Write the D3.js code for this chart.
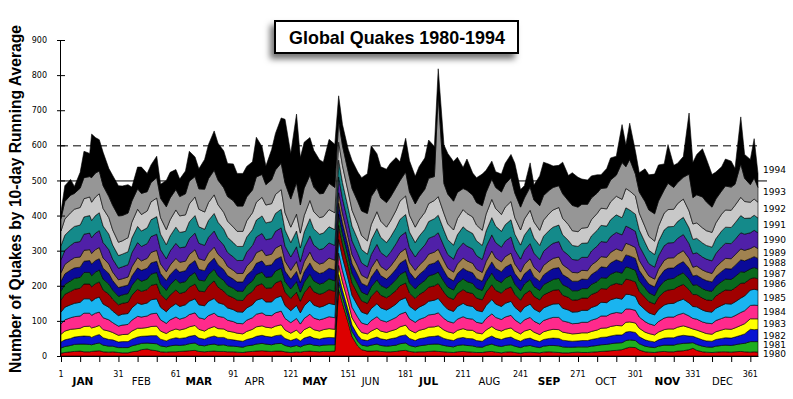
<!DOCTYPE html>
<html>
<head>
<meta charset="utf-8">
<script src="https://cdn.jsdelivr.net/npm/d3@7"></script>
<style>
  body { margin: 0; background: #fff; }
  svg { display: block; }
</style>
</head>
<body>
<div id="chart"></div>
<script>
'use strict';

// day of year for each sample (10-day running average)
const days = [1,3,6,8,11,13,16,17,
  19,21,23,26,28,31,33,36,38,41, 43,46,48,51,53,56,58,61,63,66, 68,71,73,76,78,81,83,86,88,91, 93,96,98,101,103,106,108,111,113,116, 118,121,
  124,126,128,131,133,136,138,141,144,146, 148,151,153,156,158,161,163,166,168,171, 173,176,178,181,183,186,188,191,193,196, 198,
  201,203,206,208,211,213,216,218,221,223, 226,228,231,233,236,238,241,243,246,248, 251,253,256,258,261,263,266,268,271,273, 276,278,281,283,286,288,291,294,
  296,298,301,303,306,308,311,313,316,318, 321,323,326,329,331,333,336,338,341,343, 346,348,351,353,356,358,361,363,365];

const years = ['1980','1981','1982','1983','1984','1985','1986','1987',
  '1988','1989','1990','1991','1992','1993','1994'];

// quakes per year layer
const q1980 = [8,10,12,13,14,12,12,13,
  14,15,12,11,12,10,9,9,12,14, 18,20,17,15,12,11,12,12,13,14, 15,16,13,12,13,14,13,13,12,12, 11,10,12,13,14,15,14,13,14,14, 12,10,
  12,11,13,14,13,12,13,13,14,190, 150,95,55,28,18,14,14,15,13,12, 12,13,15,16,13,11,12,12,13,14, 13,
  12,11,10,12,13,12,11,10,10,12, 13,11,9,11,12,10,8,10,11,10, 9,11,12,11,10,9,9,10,11,10, 10,11,12,13,14,15,16,18,
  22,25,24,17,12,11,10,12,13,12, 12,14,15,18,22,16,12,11,10,11, 12,12,11,12,13,12,11,12,11];
const q1981 = [15,17,18,20,20,22,21,19,
  21,22,19,17,16,14,15,15,17,19, 18,17,19,20,17,15,17,19,17,18, 20,21,18,17,19,20,18,19,17,16, 16,15,17,18,20,21,20,19,21,22, 18,16,
  18,15,18,20,18,17,18,19,18,20, 18,16,15,14,13,14,17,19,17,16, 17,18,20,21,17,15,17,19,20,20, 21,
  18,17,16,18,19,18,18,16,15,18, 21,19,18,19,20,18,16,18,19,17, 15,17,18,19,19,17,16,15,15,16, 16,17,18,19,19,20,21,20,
  22,21,20,18,16,15,14,16,18,19, 19,20,21,19,16,17,16,15,15,17, 18,19,19,20,22,24,30,29,30];
const q1982 = [17,19,20,21,22,23,23,21,
  23,24,21,19,18,16,17,17,19,21, 20,20,22,23,19,17,19,21,20,20, 21,22,20,19,21,23,22,21,19,18, 17,17,18,20,22,23,22,22,23,24, 20,18,
  20,17,20,22,20,19,20,21,20,22, 20,19,18,17,16,16,18,20,19,18, 20,21,22,23,20,18,20,21,22,22, 24,
  20,19,18,20,21,20,20,18,17,20, 23,21,20,21,22,20,18,20,21,19, 17,19,20,21,21,19,18,17,17,18, 18,19,20,21,21,22,23,22,
  24,24,23,20,18,17,16,18,20,21, 21,22,23,20,18,19,18,17,17,19, 20,21,21,22,24,27,35,34,35];
const q1983 = [22,25,26,23,23,27,29,27,
  25,26,23,24,21,19,20,21,23,25, 23,24,26,27,23,21,23,25,24,26, 27,28,25,23,25,27,25,24,23,22, 21,21,23,25,27,27,26,26,27,29, 24,21,
  24,20,24,27,24,23,24,25,24,26, 23,23,21,22,20,19,22,25,22,21, 22,24,26,28,24,22,24,25,27,27, 28,
  24,22,21,23,25,24,24,22,21,24, 27,25,24,25,26,23,21,23,25,22, 20,22,24,25,25,23,22,21,21,22, 22,23,24,26,26,27,27,26,
  28,27,27,24,22,21,20,22,24,25, 25,26,27,24,21,22,22,21,20,22, 24,25,25,26,28,29,30,31,30];
const q1984 = [29,32,33,35,35,38,37,36,
  39,38,34,32,28,26,27,28,31,34, 32,33,36,37,32,29,32,34,31,32, 35,36,33,34,37,38,35,33,31,30, 28,29,32,33,36,37,34,35,38,39, 33,30,
  33,28,32,36,33,32,31,34,33,35, 33,31,30,29,27,26,30,33,31,30, 31,34,36,37,32,30,31,33,35,36, 37,
  33,30,29,32,34,33,32,30,30,33, 36,34,33,35,36,32,29,32,34,31, 30,32,33,34,35,32,31,29,29,30, 30,32,33,35,34,36,37,36,
  38,37,36,32,30,28,27,30,33,34, 34,35,36,33,30,31,29,30,30,32, 33,34,34,35,37,37,38,39,38];
const q1985 = [34,36,37,38,39,41,41,40,
  42,43,39,36,33,30,31,31,35,38, 36,37,40,41,36,33,35,38,36,36, 38,40,37,38,41,42,39,37,35,34, 33,33,35,37,40,41,38,39,42,43, 37,34,
  37,32,36,40,37,36,36,38,37,39, 37,35,34,33,31,30,34,37,35,34, 35,38,40,41,36,34,35,37,39,40, 41,
  37,34,33,36,38,37,36,34,33,37, 41,38,37,39,40,36,33,36,38,35, 34,36,37,38,39,36,35,33,33,34, 34,36,37,39,38,40,41,40,
  42,41,40,36,34,31,30,34,37,38, 39,39,40,37,34,35,34,33,33,35, 37,38,38,39,41,42,44,45,44];
const q1986 = [34,37,38,40,40,42,42,41,
  42,43,40,37,34,31,31,32,36,39, 37,38,41,42,37,34,36,39,37,37, 40,42,39,40,44,50,44,38,36,34, 33,33,36,38,41,42,39,40,43,44, 38,35,
  38,33,37,41,38,37,37,39,38,40, 38,36,35,34,32,31,35,38,36,35, 36,39,41,42,37,34,36,38,40,41, 42,
  38,35,34,37,39,38,37,35,34,38, 42,39,38,40,41,37,34,37,39,36, 35,37,38,39,40,37,36,34,34,35, 35,37,38,39,39,41,42,41,
  43,42,41,37,35,32,31,35,38,39, 40,41,42,38,34,35,34,33,33,35, 38,39,39,40,42,37,32,33,32];
const q1987 = [26,28,30,31,31,33,33,32,
  33,34,31,29,26,24,24,25,28,31, 29,30,32,33,29,27,29,31,30,29, 31,33,31,31,32,33,32,30,28,27, 26,26,28,30,32,33,31,32,34,35, 30,27,
  30,26,30,33,31,29,29,31,30,32, 30,28,28,27,25,24,27,30,28,27, 28,31,32,33,29,27,28,30,32,33, 33,
  30,28,27,29,31,30,29,28,27,30, 33,31,30,32,33,29,27,29,31,28, 27,29,30,31,32,30,28,27,26,27, 27,29,30,31,31,32,33,33,
  35,34,33,30,27,25,24,27,30,31, 31,32,33,30,27,28,27,27,26,28, 30,31,31,32,33,31,28,29,28];
const q1988 = [28,30,31,30,29,32,34,33,
  33,32,31,30,27,25,24,24,27,30, 31,31,32,32,30,28,29,30,31,31, 33,34,31,29,31,32,32,31,28,26, 26,27,29,31,32,32,33,34,33,33, 30,28,
  29,27,30,32,31,30,30,30,31,31, 30,29,27,26,25,25,28,31,28,26, 28,30,32,34,31,28,29,31,32,32, 34,
  31,28,26,28,30,31,30,28,26,29, 32,32,31,31,32,30,28,29,30,28, 26,28,31,31,31,29,27,27,27,27, 26,28,31,31,30,32,34,32,
  34,34,34,30,26,25,25,28,31,31, 30,31,32,31,26,27,28,28,27,28, 29,30,30,32,34,32,30,31,30];
const q1989 = [24,27,28,29,29,31,31,30,
  31,32,29,27,24,22,22,23,26,29, 27,28,30,31,27,25,27,29,28,27, 29,31,30,29,30,31,30,28,26,25, 24,24,26,28,30,31,29,30,32,33, 28,25,
  28,24,28,31,28,27,27,29,28,30, 28,26,26,25,23,22,26,28,26,25, 26,29,30,31,27,25,26,28,30,31, 31,
  28,26,25,27,29,28,27,26,25,28, 31,29,28,30,31,27,25,27,29,27, 25,27,28,29,30,28,26,25,24,25, 25,27,28,29,29,30,31,31,
  33,32,31,28,25,23,22,25,28,29, 29,30,31,28,25,26,25,25,24,26, 28,29,29,30,31,30,28,29,28];
const q1990 = [37,40,42,43,44,46,47,45,
  47,48,44,41,37,33,34,35,40,43, 41,42,45,46,41,37,40,43,41,41, 45,47,44,43,45,46,44,42,40,38, 37,37,40,42,45,47,45,45,48,49, 43,38,
  42,36,41,46,43,41,41,43,42,45, 42,40,39,37,35,33,38,42,40,38, 40,43,46,47,42,38,40,42,45,46, 47,
  42,39,37,40,43,42,41,39,37,42, 46,44,42,44,46,41,37,40,43,40, 37,40,42,43,44,41,39,37,36,37, 38,40,42,43,43,45,47,46,
  49,48,46,42,38,35,34,38,42,43, 43,45,46,42,38,38,37,36,36,39, 42,43,43,44,46,46,45,46,45];
const q1991 = [40,43,45,46,47,49,50,49,
  50,51,47,44,40,36,36,37,42,46, 44,45,48,50,44,40,43,46,44,44, 48,50,47,46,48,50,47,45,43,41, 40,40,43,45,48,50,48,48,51,53, 46,41,
  45,39,44,49,46,44,44,46,45,48, 45,43,42,40,38,36,41,45,43,41, 43,46,49,50,45,41,43,45,48,49, 50,
  45,42,40,43,46,45,44,42,40,45, 49,47,45,47,49,44,40,43,46,43, 40,43,45,46,47,44,42,40,39,40, 41,43,45,46,46,48,50,49,
  52,51,49,45,41,38,36,41,45,46, 46,48,49,45,41,41,40,39,39,42, 45,46,46,47,49,45,42,43,42];
const q1992 = [42,46,48,49,50,52,53,52,
  53,54,50,47,43,38,38,40,45,49, 47,48,51,53,47,43,46,49,47,47, 51,53,50,49,51,53,50,48,46,44, 43,43,46,48,51,53,51,51,54,56, 49,44,
  48,42,47,52,49,47,47,49,48,51, 48,46,45,43,40,38,44,48,46,44, 46,49,52,53,48,44,46,48,51,52, 53,
  48,45,43,46,49,48,47,45,43,48, 52,50,48,50,52,47,43,46,49,46, 43,46,48,49,50,47,45,42,42,43, 44,46,48,49,49,51,53,52,
  55,54,52,48,44,40,38,43,48,49, 49,51,52,48,44,44,43,42,42,45, 48,49,49,50,52,48,45,46,45];
const q1993 = [35,50,50,45,55,60,58,70,
  68,65,65,60,70,75,72,70,60,58, 60,55,55,58,55,65,62,58,55,60, 65,58,58,65,68,70,70,70,70,75, 72,72,68,65,72,65,58,68,70,75, 85,80,
  90,80,78,72,70,68,66,75,72,60, 57,58,62,65,70,78,80,68,66,70, 68,65,58,68,66,66,66,66,72,68, 290,
  85,85,82,75,60,66,62,64,70,62, 58,60,64,66,68,70,65,60,66,62, 70,70,66,64,62,70,68,72,70,68, 66,62,58,56,60,62,60,105,
  62,90,62,60,72,75,78,72,66,75, 62,60,62,105,75,80,88,82,72,68, 66,68,66,60,95,66,50,60,42];
const q1994 = [20,45,45,20,45,75,66,124,
  101,89,95,80,85,86,84,81,40,62, 75,52,50,61,40,75,73,57,50,65, 85,56,57,85,97,112,105,105,94,105, 93,93,87,80,113,79,53,86,104,129, 181,130,
  195,135,131,107,105,97,89,125,123,72, 60,64,80,84,95,113,145,97,89,95, 97,85,54,96,89,79,86,89,109,86, 74,
  110,116,113,100,60,89,63,71,90,63, 51,45,51,59,66,85,50,35,69,43, 85,95,74,61,58,90,72,93,85,72, 69,63,52,39,55,63,54,108,
  62,103,65,55,93,100,113,103,74,110, 63,55,59,174,100,115,137,123,93,77, 69,77,74,45,134,68,72,112,40];

const series = [q1980,q1981,q1982,q1983,q1984,q1985,q1986,q1987,
  q1988,q1989,q1990,q1991,q1992,q1993,q1994];

const colors = ['#dd0000','#1fae1f','#0a14d2','#ffff00','#ff2a8c','#1ab4f0','#a00000',
  '#0a6a1e','#0a0a99','#a08250','#5020a8','#148a8a','#c8c8c8','#969696','#000000'];

// axis labels
const yTicks = d3.range(0, 901, 100);
const dayTicks = d3.range(1, 362, 10);
const dayLabels = d3.range(1, 362, 30);
const months = ['JAN','FEB','MAR','APR','MAY','JUN','JUL','AUG','SEP','OCT','NOV','DEC'];
const monthStart = [1,32,60,91,121,152,182,213,244,274,305,335];

series.forEach((s, k) => {
    if (s.length !== days.length) throw new Error(`${years[k]} has ${s.length} values, days has ${days.length}`);
});

const width = 793, height = 399;

let svg = d3.select('#chart').append('svg')
    .attr('width', width)
    .attr('height', height)
    .attr('viewBox', `0 0 ${width} ${height}`)
    .style('font-family', '"DejaVu Sans", Verdana, sans-serif');

const x = d3.scaleLinear().domain([1, 365]).range([61, 758]);
const y = d3.scaleLinear().domain([0, 900]).range([356, 40]);

// build table for the stack
const table = days.map((d, i) => {
    let row = { day: d };
    years.forEach((yr, k) => { row[yr] = series[k][i]; });
    return row;
});
const stacked = d3.stack().keys(years)(table);

// reference lines at 600 (dashed) and 500 (solid)
svg.append('line')
    .attr('x1', 60).attr('x2', 762)
    .attr('y1', y(600) + 0.5).attr('y2', y(600) + 0.5)
    .attr('stroke', '#000').attr('stroke-width', 1)
    .attr('stroke-dasharray', '8,5');
svg.append('line')
    .attr('x1', 60).attr('x2', 767)
    .attr('y1', y(500) + 0.5).attr('y2', y(500) + 0.5)
    .attr('stroke', '#000').attr('stroke-width', 1);

// layers
const area = d3.area()
    .x(d => x(d.data.day))
    .y0(d => y(d[0]))
    .y1(d => y(d[1]));

svg.append('g')
    .attr('class', 'layers')
  .selectAll('path')
  .data(stacked)
  .join('path')
    .attr('d', area)
    .attr('fill', (d, i) => colors[i])
    .attr('stroke', '#000')
    .attr('stroke-width', 0.6)
    .attr('stroke-linejoin', 'round');

// y axis
let yAxis = svg.append('g')
    .attr('transform', 'translate(60,0)')
    .call(d3.axisLeft(y).tickValues(yTicks).tickSizeInner(3).tickSizeOuter(0).tickPadding(10));
yAxis.selectAll('.tick').append('line')
    .attr('x2', 5).attr('stroke', '#000');
yAxis.selectAll('text')
    .attr('font-family', '"DejaVu Sans", Verdana, sans-serif')
    .attr('font-size', 8)
    .attr('fill', '#000');

// x axis
svg.append('g')
    .attr('transform', `translate(0,${y(0)})`)
    .call(d3.axisBottom(x).tickValues(dayTicks).tickSizeInner(6).tickSizeOuter(0).tickFormat(''));

svg.append('g')
    .selectAll('text')
    .data(dayLabels)
    .join('text')
    .attr('x', d => x(d))
    .attr('y', 377)
    .attr('text-anchor', 'middle')
    .attr('font-size', 8)
    .text(d => d);

svg.append('g')
    .selectAll('text')
    .data(months)
    .join('text')
    .attr('x', (d, i) => x(monthStart[i] + 6))
    .attr('y', 385)
    .attr('font-size', (d, i) => i % 2 === 0 ? 10.5 : 10)
    .attr('font-weight', (d, i) => i % 2 === 0 ? 'bold' : 'normal')
    .text(d => d);

// year labels at right, from the layer midpoints over the last samples
const nLast = 3;
let labelY = stacked.map(layer => {
    const last = layer.slice(-nLast);
    return y(d3.mean(last, d => (d[0] + d[1]) / 2));
});
for (let i = 1; i < labelY.length; i++) {
    labelY[i] = Math.min(labelY[i], labelY[i - 1] - 9);
}
svg.append('g')
    .selectAll('text')
    .data(years)
    .join('text')
    .attr('x', 763)
    .attr('y', (d, i) => labelY[i])
    .attr('dy', '0.35em')
    .attr('font-size', 9)
    .text(d => d);

// y axis title, fitted to the length in the reference
let yTitle = svg.append('text')
    .attr('transform', 'translate(21,199) rotate(-90)')
    .attr('text-anchor', 'middle')
    .attr('font-family', 'Arial, "Liberation Sans", sans-serif')
    .attr('font-weight', 'bold')
    .attr('font-size', 16)
    .text('Number of Quakes by 10-day Running Average');
const titleLen = yTitle.node().getComputedTextLength();
yTitle.attr('font-size', 16 * 348 / titleLen);

// title box with shadow
let defs = svg.append('defs');
defs.append('filter')
    .attr('id', 'shadow')
    .attr('x', '-20%').attr('y', '-50%')
    .attr('width', '140%').attr('height', '220%')
  .append('feDropShadow')
    .attr('dx', -4).attr('dy', 5)
    .attr('stdDeviation', 3)
    .attr('flood-color', '#000')
    .attr('flood-opacity', 0.55);

svg.append('rect')
    .attr('x', 275).attr('y', 21)
    .attr('width', 243).attr('height', 32)
    .attr('fill', '#fff')
    .attr('stroke', '#000')
    .attr('stroke-width', 2)
    .attr('filter', 'url(#shadow)');

let title = svg.append('text')
    .attr('x', 397).attr('y', 43.5)
    .attr('text-anchor', 'middle')
    .attr('font-family', 'Arial, "Liberation Sans", sans-serif')
    .attr('font-weight', 'bold')
    .attr('font-size', 18)
    .text('Global Quakes 1980-1994');
const tLen = title.node().getComputedTextLength();
title.attr('font-size', 18 * 216 / tLen);
</script>
</body>
</html>
